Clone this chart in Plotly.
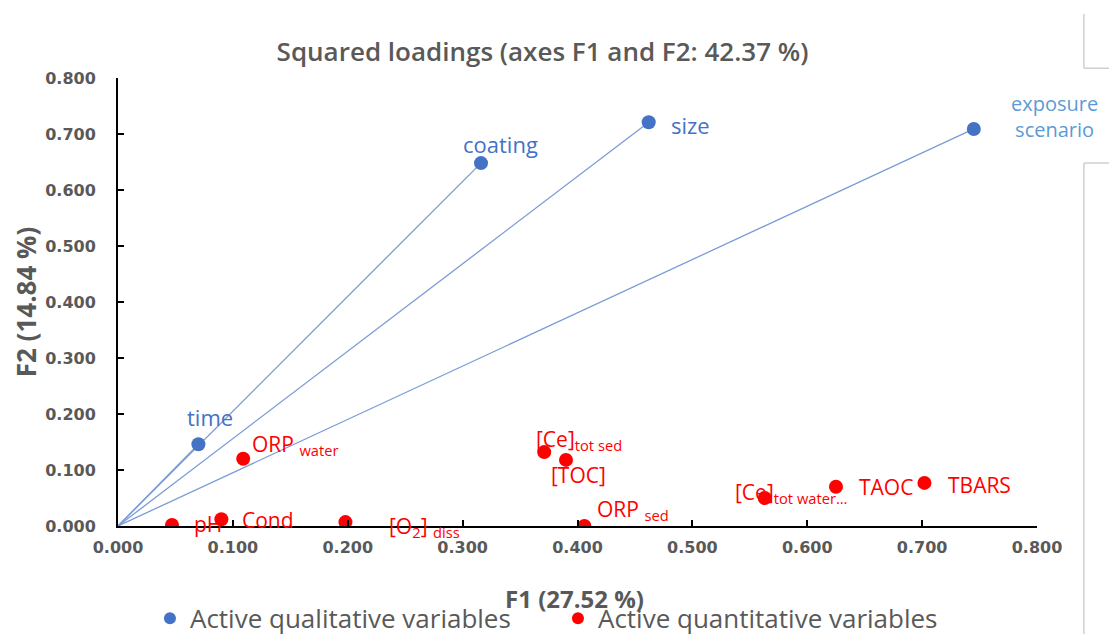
import plotly.graph_objects as go

# Data
qual_names = ["time", "coating", "size", "exposure<br>scenario"]
qual_f1 = [0.070, 0.316, 0.462, 0.745]
qual_f2 = [0.146, 0.648, 0.721, 0.709]

quant_names = ["pH", "Cond", "ORP <sub>water</sub>", "[O<sub>2</sub>] <sub>diss</sub>",
               "[Ce]<sub>tot sed</sub>", "[TOC]", "ORP <sub>sed</sub>",
               "[Ce]<sub>tot water…</sub>", "TAOC", "TBARS"]
quant_f1 = [0.047, 0.090, 0.109, 0.198, 0.371, 0.390, 0.406, 0.563, 0.625, 0.702]
quant_f2 = [0.002, 0.012, 0.120, 0.007, 0.132, 0.118, 0.000, 0.050, 0.070, 0.077]

tick_vals = [0.0, 0.1, 0.2, 0.3, 0.4, 0.5, 0.6, 0.7, 0.8]

BLUE = "#4472C4"
RED = "#FF0000"
GREY = "#595959"
FONT = "Open Sans, sans-serif"
TICKFONT = "DejaVu Sans, sans-serif"

fig = go.Figure()

# lines from origin to qualitative points
for x, y in zip(qual_f1, qual_f2):
    fig.add_trace(go.Scatter(x=[0, x], y=[0, y], mode="lines",
                             line=dict(color="#7A9CD6", width=1.3),
                             showlegend=False, hoverinfo="skip"))

fig.add_trace(go.Scatter(x=qual_f1, y=qual_f2, mode="markers",
                         marker=dict(color=BLUE, size=14),
                         name="Active qualitative variables"))
fig.add_trace(go.Scatter(x=quant_f1, y=quant_f2, mode="markers",
                         marker=dict(color=RED, size=14),
                         name="Active quantitative variables"))

# label offsets (style): (xshift, yshift, xanchor, color, size)
qual_style = [
    (12, 27, "center", BLUE, 22),
    (19, 19, "center", BLUE, 22),
    (20, -3, "left", BLUE, 22),
    (35, 12, "left", "#5B9BD5", 20),
]
for name, x, y, (dx, dy, xa, c, s) in zip(qual_names, qual_f1, qual_f2, qual_style):
    fig.add_annotation(x=x, y=y, text=name, showarrow=False, xshift=dx, yshift=dy,
                       xanchor=xa, font=dict(family=FONT, size=s, color=c))

quant_style = [
    (20, 1, "left"),
    (19, -1, "left"),
    (7, 14, "left"),
    (42, -5, "left"),
    (-10, 12, "left"),
    (12, -15, "center"),
    (11, 16, "left"),
    (-32, 5, "left"),
    (21, 0, "left"),
    (22, -2, "left"),
]
for name, x, y, (dx, dy, xa) in zip(quant_names, quant_f1, quant_f2, quant_style):
    fig.add_annotation(x=x, y=y, text=name, showarrow=False, xshift=dx, yshift=dy,
                       xanchor=xa, font=dict(family=FONT, size=21, color=RED))

axis_common = dict(range=[0, 0.8], tickvals=tick_vals, tickformat=".3f",
                   showgrid=False, zeroline=False, showline=True, automargin=False,
                   linecolor="black", linewidth=2, ticks="inside",
                   ticklen=6, tickwidth=1.5, tickcolor="black",
                   tickfont=dict(family=TICKFONT, size=16, color=GREY, weight="bold"))

fig.update_xaxes(**axis_common, ticklabelstandoff=6)
fig.update_yaxes(**axis_common, ticklabelstandoff=17,
                 title=dict(text="<b>F2 (14.84 %)</b>", standoff=4,
                            font=dict(family=FONT, size=26, color=GREY)))

# x-axis title placed below the tick labels
fig.add_annotation(xref="paper", yref="paper", x=0.497, y=-0.161, xanchor="center",
                   yanchor="middle", showarrow=False, text="<b>F1 (27.52 %)</b>",
                   font=dict(family=FONT, size=24, color=GREY))

# decorative grey frame fragments at right edge
line_style = dict(color="#D0D0D0", width=1.5)
fig.add_shape(type="line", xref="paper", yref="paper", x0=1.051, x1=1.051, y0=1.143, y1=1.022, line=line_style)
fig.add_shape(type="line", xref="paper", yref="paper", x0=1.051, x1=1.09, y0=1.022, y1=1.022, line=line_style)
fig.add_shape(type="line", xref="paper", yref="paper", x0=1.051, x1=1.051, y0=0.810, y1=-0.241, line=line_style)
fig.add_shape(type="line", xref="paper", yref="paper", x0=1.051, x1=1.09, y0=0.810, y1=0.810, line=line_style)

# page body adds an 8 px offset; figure sized to fill the remaining window
fig.update_layout(
    width=1109, height=626,
    margin=dict(l=110, r=80, t=70, b=108),
    paper_bgcolor="white", plot_bgcolor="white",
    title=dict(text="Squared loadings (axes F1 and F2: 42.37 %)", x=0.482, xanchor="center",
               y=0.93, yanchor="middle",
               font=dict(family=FONT, size=26, color=GREY, weight=600)),
    legend=dict(orientation="h", xref="container", x=0.128, xanchor="left",
                yref="container", y=0.025, yanchor="middle",
                font=dict(family=FONT, size=26, color=GREY), itemsizing="constant",
                bgcolor="rgba(0,0,0,0)", entrywidth=363, entrywidthmode="pixels"),
    showlegend=True,
)

fig.write_html("out.html")
